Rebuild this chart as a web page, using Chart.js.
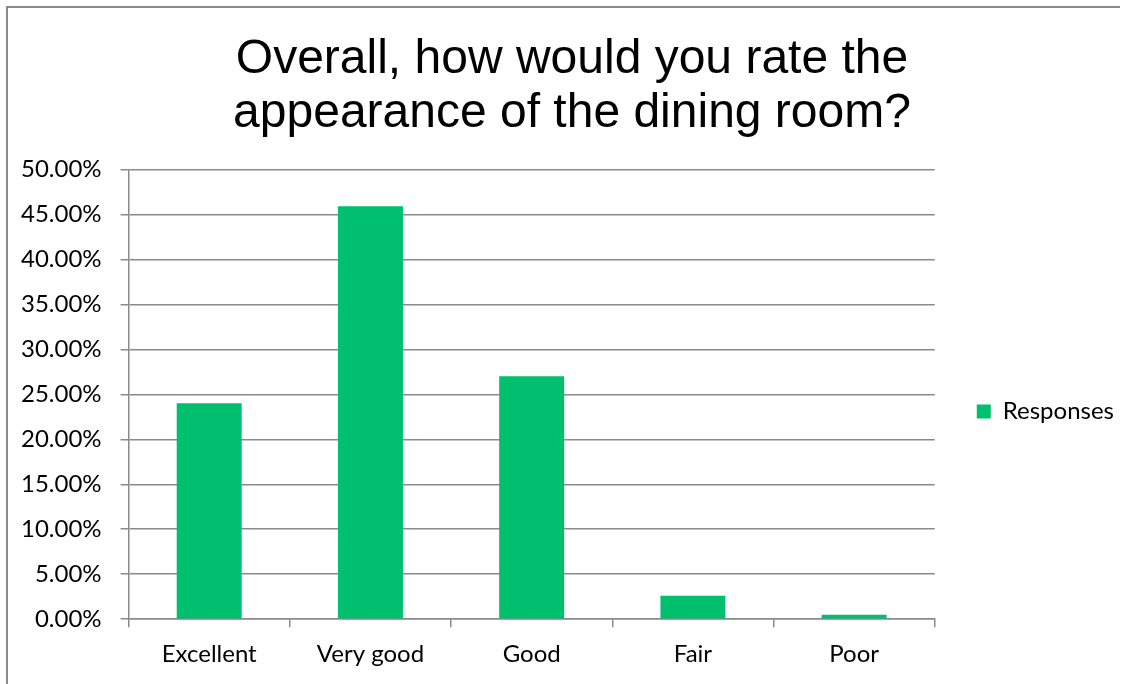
<!DOCTYPE html>
<html>
<head>
<meta charset="utf-8">
<script src="https://cdn.jsdelivr.net/npm/chart.js@4/dist/chart.umd.min.js"></script>
<style>
  html, body { margin: 0; padding: 0; background: #fff; overflow: hidden; }
  #heading { position: absolute; left: 252px; top: -29px; font: bold 28px "Liberation Sans", Arial, sans-serif; line-height: 28px; color: #000; white-space: nowrap; }
  #frame { position: absolute; left: 6px; top: 6px; width: 1112px; height: 700px; border-top: 2px solid #8a8a8a; border-left: 2px solid #8a8a8a; }
  #wrap { position: absolute; left: 0; top: 0; width: 1127px; height: 684px; }
</style>
</head>
<body>
<div id="heading">Appearance</div>
<div id="frame"></div>
<div id="wrap"><canvas id="chart"></canvas></div>
<script>
const categories = ["Excellent", "Very good", "Good", "Fair", "Poor"];
const responses = [24.0, 45.9, 27.0, 2.6, 0.5];
const yTicks = [0, 5, 10, 15, 20, 25, 30, 35, 40, 45, 50];

const gridColor = "#8a8a8a";
const tickFont = { family: "Lato, 'Open Sans', sans-serif", size: 24 };

// title sits a bit right of the canvas centre in the original
const nudgeTitle = {
  id: "nudgeTitle",
  afterLayout(chart) {
    if (chart.titleBlock) {
      chart.titleBlock.left += 9;
      chart.titleBlock.right += 9;
    }
  }
};

new Chart(document.getElementById("chart"), {
  type: "bar",
  data: {
    labels: categories,
    datasets: [{
      label: "Responses",
      data: responses,
      backgroundColor: "#00bf6f",
      borderWidth: 0,
      barPercentage: 1,
      categoryPercentage: 0.403
    }]
  },
  options: {
    responsive: true,
    maintainAspectRatio: false,
    animation: false,
    devicePixelRatio: 1,
    layout: { padding: { left: 2, right: 3, top: 0, bottom: 2 } },
    plugins: {
      title: {
        display: true,
        text: ["Overall, how would you rate the", "appearance of the dining room?"],
        color: "#000",
        font: { family: "'Liberation Sans', Arial, sans-serif", size: 48, weight: "normal", lineHeight: 1.14 },
        padding: { top: 32, bottom: 28 }
      },
      legend: {
        position: "right",
        fullSize: false,
        title: { display: true, text: "", padding: { top: 20, bottom: 0 } },
        labels: {
          color: "#000",
          font: tickFont,
          boxWidth: 14,
          boxHeight: 14,
          padding: 42
        }
      },
      tooltip: { enabled: false }
    },
    scales: {
      x: {
        grid: { drawOnChartArea: false, drawTicks: true, tickLength: 8, color: gridColor, lineWidth: 1.5 },
        border: { color: gridColor, width: 1.5 },
        ticks: { color: "#000", font: tickFont, padding: 13 }
      },
      y: {
        min: 0,
        max: 50,
        afterBuildTicks: axis => { axis.ticks = yTicks.map(v => ({ value: v })); },
        grid: { color: gridColor, lineWidth: 1.5, tickLength: 8 },
        border: { color: gridColor, width: 1.5 },
        ticks: {
          color: "#000",
          font: tickFont,
          padding: 19,
          callback: v => v.toFixed(2) + "%"
        }
      }
    }
  },
  plugins: [nudgeTitle]
});
</script>
</body>
</html>
